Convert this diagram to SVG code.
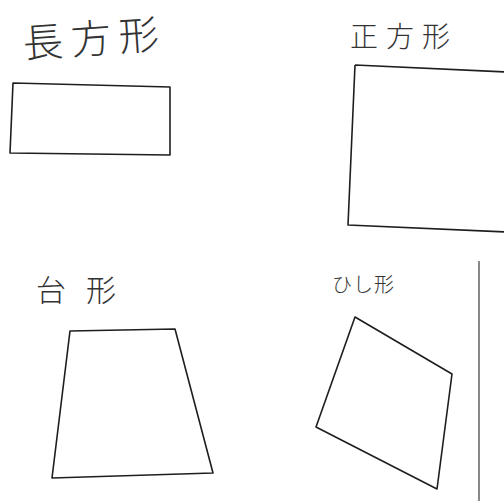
<svg xmlns="http://www.w3.org/2000/svg" width="504" height="501" viewBox="0 0 504 501">
<style>
.shape{fill:none;stroke:#1e1e1e;stroke-width:1.6;stroke-linejoin:round}
.lbl{font-family:"Noto Sans CJK JP","Noto Sans CJK SC",sans-serif;font-weight:300;fill:#333}
</style>
<rect width="504" height="501" fill="#ffffff"/>
<g id="rect-node">
<text class="lbl" x="24" y="58" font-size="40" letter-spacing="8" transform="rotate(-4 24 58)">長方形</text>
<path class="shape" d="M13,83 L170,87 L170,155 L10,153 Z"/>
</g>
<g id="square-node">
<text class="lbl" x="350" y="47" font-size="28" letter-spacing="8">正方形</text>
<path class="shape" d="M355,65 L506,72 M355,65 L348,225 L506,232"/>
</g>
<g id="trapezoid-node">
<text class="lbl" x="36" y="301" font-size="30" letter-spacing="20">台形</text>
<path class="shape" d="M70,331 L175,329 L213,473 L52,478 Z"/>
</g>
<g id="rhombus-node">
<text class="lbl" x="332" y="292" font-size="20" letter-spacing="1">ひし形</text>
<path class="shape" d="M355,317 L452,374 L437,489 L316,427 Z"/>
</g>
<g id="divider">
<line x1="479" y1="261" x2="479" y2="501" stroke="#888" stroke-width="2"/>
</g>
<g id="connectors"></g>
</svg>
